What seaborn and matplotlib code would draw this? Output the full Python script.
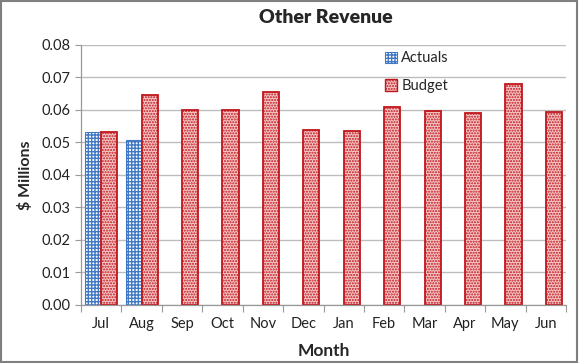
import numpy as np
import pandas as pd
import matplotlib.pyplot as plt
import matplotlib.patches as mpatches
import seaborn as sns

# values ($ millions)
months = ["Jul", "Aug", "Sep", "Oct", "Nov", "Dec", "Jan", "Feb", "Mar", "Apr", "May", "Jun"]
actuals = [0.0533, 0.0508, np.nan, np.nan, np.nan, np.nan, np.nan, np.nan, np.nan, np.nan, np.nan, np.nan]
budget = [0.0532, 0.0644, 0.0598, 0.0598, 0.0653, 0.0539, 0.0534, 0.0607, 0.0597, 0.0590, 0.0679, 0.0593]
yticks = [0.00, 0.01, 0.02, 0.03, 0.04, 0.05, 0.06, 0.07, 0.08]

df = pd.DataFrame({
    "Month": months * 2,
    "Value": actuals + budget,
    "Series": ["Actuals"] * len(months) + ["Budget"] * len(months),
})

sns.set_style("white")
plt.rcParams["font.family"] = ["Lato", "DejaVu Sans"]
plt.rcParams["hatch.linewidth"] = 1.0

fig = plt.figure(figsize=(5.79, 3.63), dpi=100)
ax = fig.add_axes([0.140, 0.160, 0.8375, 0.717])

sns.barplot(data=df, x="Month", y="Value", hue="Series", order=months,
            hue_order=["Actuals", "Budget"], width=0.8, ax=ax, legend=False,
            saturation=1)

n = len(months)
# style each series through its bar container
for p in ax.containers[0]:
    p.set_facecolor("white")
    p.set_edgecolor("#3f78c4")
    p.set_hatch("+++++")
    p.set_linewidth(0.8)
for p in ax.containers[1]:
    p.set_facecolor("#f6c6c6")
    p.set_edgecolor("#c0161c")
    p.set_hatch("......")
    p.set_linewidth(1.3)

ax.set_ylim(0, 0.08)
ax.set_xlim(-0.5, n - 0.5)
ax.set_yticks(yticks)
ax.set_yticklabels([f"{t:.2f}" for t in yticks], fontsize=10.5, color="#222222")
ax.tick_params(axis="x", length=0, labelsize=10.5, labelcolor="#222222", pad=9)
ax.tick_params(axis="y", length=4, width=0.8, color="#999999", direction="out", left=True)
ax.set_xticks(np.arange(-0.5, n, 1), minor=True)
ax.tick_params(axis="x", which="minor", length=5, width=0.8, color="#999999", bottom=True)

ax.yaxis.grid(True, color="#bdbdbd", linewidth=1)
ax.set_axisbelow(True)
for side in ["top", "right"]:
    ax.spines[side].set_visible(False)
for side in ["left", "bottom"]:
    ax.spines[side].set_color("#999999")
    ax.spines[side].set_linewidth(0.9)

ax.set_xlabel("Month", fontsize=12.5, fontweight="bold", labelpad=8)
ax.set_ylabel("$ Millions", fontsize=11.5, fontweight="bold", labelpad=6)
fig.text(0.562, 0.952, "Other Revenue", fontsize=14, fontweight="heavy",
         ha="center", va="center")

h1 = mpatches.Patch(facecolor="white", edgecolor="#3f78c4", hatch="+++++", linewidth=0.8)
h2 = mpatches.Patch(facecolor="#f6c6c6", edgecolor="#c0161c", hatch="......", linewidth=1.0)
ax.legend([h1, h2], ["Actuals", "Budget"], loc="upper left", bbox_to_anchor=(0.60, 1.025),
          frameon=False, fontsize=10.5, handlelength=0.8, handleheight=0.8,
          handletextpad=0.3, labelspacing=0.95)

# grey border around the picture
fig.patches.append(mpatches.Rectangle((0.002, 0.003), 0.994, 0.994, transform=fig.transFigure,
                                      fill=False, edgecolor="#7f7f7f", linewidth=1.5))

fig.savefig("out.png", dpi=100)
